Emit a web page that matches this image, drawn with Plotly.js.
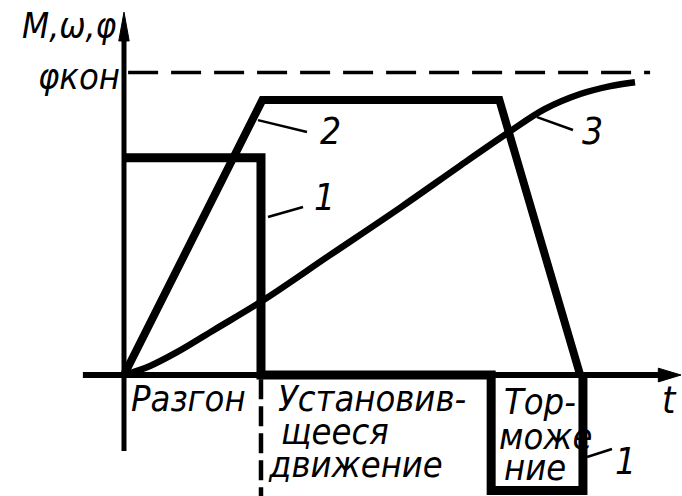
<!DOCTYPE html>
<html>
<head>
<meta charset="utf-8">
<script src="https://cdn.plot.ly/plotly-3.0.1.min.js"></script>
<style>
  html, body { margin: 0; padding: 0; background: #ffffff; }
  #graph { width: 682px; height: 496px; }
</style>
</head>
<body>
<div id="graph"></div>
<script>
//values, t in units of the acceleration time,
//M, omega, phi in units of the steady speed
var t_M = [0, 1.0, 1.0, 2.68, 2.68, 3.35, 3.35]
var M_vals = [0.79, 0.79, 0, 0, -0.42, -0.42, 0]

var t_w = [0, 1.01, 2.74, 3.33]
var w_vals = [0, 1.0, 1.0, 0]

var t_phi = [0, 0.19, 0.39, 0.66, 1.01, 1.5, 2.02, 2.45, 2.8, 3.07, 3.33, 3.55, 3.73]
var phi_vals = [0, 0.033, 0.084, 0.165, 0.27, 0.435, 0.61, 0.76, 0.88, 0.967, 1.022, 1.051, 1.065]

var phi_kon = 1.1
var t_phi_kon_end = 3.84
var t_acc_end = 1.0

var curve_labels = ['1', '2', '3', '1']
var phase_labels = ['Разгон', 'Установив-', 'щееся', 'движение', 'Тор-', 'може', 'ние']
var axis_label_y = 'M,ω,φ'
var axis_label_x = 't'
var phi_kon_label = 'φкон'

function drawDiagram() {

	var x_range = [-0.905, 4.073]
	var y_range = [-0.44, 1.364]
	var fontFam = 'DejaVu Sans Condensed, DejaVu Sans, sans-serif'

	var traces = []
	//1 - moment
	traces[0] = {
		x: t_M,
		y: M_vals,
		mode: 'lines',
		hoverinfo: 'none',
		line: {color: '#000000', width: 9, shape: 'linear'}
	}
	//2 - angular speed
	traces[1] = {
		x: t_w,
		y: w_vals,
		mode: 'lines',
		hoverinfo: 'none',
		line: {color: '#000000', width: 8, shape: 'linear'}
	}
	//3 - angle
	traces[2] = {
		x: t_phi,
		y: phi_vals,
		mode: 'lines',
		hoverinfo: 'none',
		line: {color: '#000000', width: 6.5, shape: 'spline', smoothing: 1}
	}

	//axes with arrow heads
	var x_ax_start = -0.3, x_ax_tip = 4.066, x_head = 3.9
	var y_ax_start = -0.276, y_ax_tip = 1.32, y_head = 1.215
	var shapes = [
		{type: 'line', xref: 'x', yref: 'y', x0: x_ax_start, x1: x_head + 0.02, y0: 0, y1: 0,
			line: {color: '#000000', width: 6}},
		{type: 'line', xref: 'x', yref: 'y', x0: 0, x1: 0, y0: y_ax_start, y1: y_head + 0.02,
			line: {color: '#000000', width: 5}},
		{type: 'path', xref: 'x', yref: 'y', fillcolor: '#000000', line: {color: '#000000', width: 1},
			path: 'M' + x_ax_tip + ',0 L' + x_head + ',0.025 L' + x_head + ',-0.025 Z'},
		{type: 'path', xref: 'x', yref: 'y', fillcolor: '#000000', line: {color: '#000000', width: 1},
			path: 'M0,' + y_ax_tip + ' L0.038,' + y_head + ' L-0.038,' + y_head + ' Z'},
		//phi final value
		{type: 'line', xref: 'x', yref: 'y', x0: 0.03, x1: t_phi_kon_end, y0: phi_kon, y1: phi_kon,
			line: {color: '#000000', width: 3.5, dash: '30px,13px'}},
		//end of acceleration
		{type: 'line', xref: 'x', yref: 'y', x0: t_acc_end, x1: t_acc_end, y0: -0.015, y1: y_range[0],
			line: {color: '#000000', width: 4.5, dash: '20px,7px'}}
	]

	//leader lines for the curve numbers
	var leaders = [[1.051, 0.575, 1.307, 0.611], [0.978, 0.927, 1.336, 0.884],
		[3.015, 0.938, 3.277, 0.891], [3.38, -0.298, 3.562, -0.269]]
	for (var i = 0; i < leaders.length; i++) {
		shapes.push({type: 'line', xref: 'x', yref: 'y',
			x0: leaders[i][0], y0: leaders[i][1], x1: leaders[i][2], y1: leaders[i][3],
			line: {color: '#000000', width: 2.5}})
	}

	var label_pos = [[1.46, 0.644], [1.504, 0.887], [3.423, 0.884], [3.664, -0.313]]
	var annotations = []
	for (var i = 0; i < curve_labels.length; i++) {
		annotations.push({x: label_pos[i][0], y: label_pos[i][1], xref: 'x', yref: 'y',
			text: curve_labels[i], showarrow: false,
			font: {family: fontFam, size: 37, color: '#000000', style: 'italic'}})
	}

	//phase names, left aligned
	var phase_pos = [[0.04, -0.087], [1.11, -0.084], [1.135, -0.207], [1.04, -0.327],
		[2.76, -0.095], [2.72, -0.222], [2.76, -0.335]]
	for (var i = 0; i < phase_labels.length; i++) {
		annotations.push({x: phase_pos[i][0], y: phase_pos[i][1], xref: 'x', yref: 'y',
			text: phase_labels[i], showarrow: false, xanchor: 'left',
			font: {family: fontFam, size: 36, color: '#000000', style: 'italic'}})
	}

	annotations.push({x: 3.985, y: -0.091, xref: 'x', yref: 'y', text: axis_label_x,
		showarrow: false, font: {family: fontFam, size: 38, color: '#000000', style: 'italic'}})
	annotations.push({x: -0.4, y: 1.27, xref: 'x', yref: 'y', text: axis_label_y,
		showarrow: false, font: {family: fontFam, size: 35, color: '#000000', style: 'italic'}})
	annotations.push({x: -0.015, y: 1.084, xref: 'x', yref: 'y', text: phi_kon_label,
		showarrow: false, xanchor: 'right',
		font: {family: fontFam, size: 36, color: '#000000', style: 'italic'}})

	var layout = {
		width: 682,
		height: 496,
		margin: {l: 0, r: 0, t: 0, b: 0},
		paper_bgcolor: '#ffffff',
		plot_bgcolor: '#ffffff',
		showlegend: false,
		xaxis: {range: x_range, autorange: false, visible: false, fixedrange: true},
		yaxis: {range: y_range, autorange: false, visible: false, fixedrange: true},
		shapes: shapes,
		annotations: annotations
	}

	Plotly.newPlot('graph', traces, layout, {displayModeBar: false, staticPlot: true})
}

drawDiagram()
</script>
</body>
</html>
